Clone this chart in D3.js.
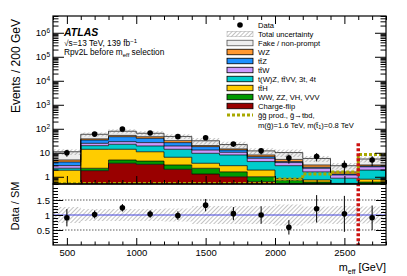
<!DOCTYPE html>
<html><head><meta charset="utf-8">
<script src="https://cdn.jsdelivr.net/npm/d3@7"></script>
<style>
body{margin:0;background:#fff;}
svg{display:block;font-family:"Liberation Sans",Arial,Helvetica,sans-serif;}
</style></head><body>
<svg id="c" width="407" height="276"></svg>
<script>
// ---------------- data ----------------
const binStart = [400,600,800,1000,1200,1400,1600,1800,2000,2200,2400,2600];
const binWidth = 200;
const chargeFlip = [0.02,1.8,3.65,3.3,2.05,1.3,1.0,0.62,0.3,0.2,0.05,0.2];
const vvv        = [0.05,0.46,1.35,1.2,1.05,0.96,0.6,0.38,0.42,0.4,0.2,0.4];
const ttH        = [1.8,11.7,9.0,6.5,3.4,1.39,1.3,0.9,0.13,0.14,0.28,0.19];
const tWZ        = [0.4,5.8,8.6,8.2,7.5,5.85,5.2,2.4,2.05,0.86,0.34,1.11];
const ttW        = [0.65,5.0,6.4,7.3,5.2,3.5,2.4,1.6,1.0,0.66,0.32,0.7];
const ttZ        = [1.2,9.2,17.6,13.5,7.3,5.0,2.5,1.0,0.4,0.24,0.1,0.2];
const wz         = [0.9,4.0,6.4,6.6,5.5,2.0,1.5,1.2,1.0,0.6,0.3,0.3];
const fake       = [6.0,21,26,18.4,16,11.6,7.5,3.9,4.9,2.7,1.3,2.4];
const dataCounts = [10,60,98,67,47,42,23,12,6,7,3,5];
const relUnc     = [0.27,0.2,0.2,0.2,0.22,0.3,0.3,0.3,0.35,0.28,0.3,0.28];
const signal     = [0.52,0.52,0.52,0.52,0.52,0.52,0.52,0.52,0.81,1.3,1.6,8.4];
const cutValue = 2600;
const cutTop = 25;
const xTicks = [500,1000,1500,2000,2500];
const yMainTicks = [1,10,100,1e3,1e4,1e5,1e6];
const yRatioTicks = [0.5,1,1.5];
const layers = [
  {vals: chargeFlip, color:"#990000", label:"Charge-flip"},
  {vals: vvv,        color:"#009900", label:"WW, ZZ, VH, VVV"},
  {vals: ttH,        color:"#ffcc00", label:"tt\u0304H"},
  {vals: tWZ,        color:"#00cccc", label:"t(W)Z, tt\u0304VV, 3t, 4t"},
  {vals: ttW,        color:"#cc99ff", label:"tt\u0304W"},
  {vals: ttZ,        color:"#1e90ff", label:"tt\u0304Z"},
  {vals: wz,         color:"#ff9933", label:"WZ"},
  {vals: fake,       color:"#eeeeee", label:"Fake / non-prompt"}
];

// ---------------- layout ----------------
const L=53, R=386, T=16, MB=184, RB=245;
const svg = d3.select("#c");
const x = d3.scaleLinear().domain([400,2800]).range([L,R]);
const y = d3.scaleLog().domain([0.5,5e6]).range([MB,T]);
const yr = d3.scaleLinear().domain([0,2]).range([RB,185]);
const lo = 0.3;

const defs = svg.append("defs");
const pat = defs.append("pattern").attr("id","hatch").attr("width",3).attr("height",3)
  .attr("patternUnits","userSpaceOnUse").attr("patternTransform","rotate(45)");
pat.append("line").attr("x1",0).attr("y1",0).attr("x2",0).attr("y2",3)
  .attr("stroke","#7a7a7a").attr("stroke-width",0.9);
defs.append("clipPath").attr("id","cm").append("rect").attr("x",L).attr("y",T).attr("width",R-L).attr("height",MB-T);
defs.append("clipPath").attr("id","cr").append("rect").attr("x",L).attr("y",MB).attr("width",R-L).attr("height",RB-MB);

// cumulative
const n = binStart.length;
let cum = new Array(n).fill(0);
const stacked = layers.map(l => {
  const bottom = cum.slice();
  cum = cum.map((c,i)=>c+l.vals[i]);
  return {layer:l, bottom, top: cum.slice()};
});
const total = cum.slice();

function stepPts(bot, top){
  const p=[];
  for(let i=0;i<n;i++){
    p.push({x:binStart[i], y0:bot[i], y1:top[i]});
    p.push({x:binStart[i]+binWidth, y0:bot[i], y1:top[i]});
  }
  return p;
}
const cl = v => Math.max(v, lo);
const area = d3.area().x(d=>x(d.x)).y0(d=>y(cl(d.y0))).y1(d=>y(cl(d.y1)));
const topLine = d3.line().x(d=>x(d.x)).y(d=>y(cl(d.y1)));

const gm = svg.append("g").attr("clip-path","url(#cm)");
stacked.forEach(s=>{
  gm.append("path").attr("d",area(stepPts(s.bottom,s.top))).attr("fill",s.layer.color);
});
stacked.forEach(s=>{
  const p = stepPts(s.bottom,s.top);
  const pts = [{x:p[0].x,y1:lo}].concat(p).concat([{x:p[p.length-1].x,y1:lo}]);
  gm.append("path").attr("d",topLine(pts)).attr("fill","none").attr("stroke","#000").attr("stroke-width",0.7);
});
// uncertainty band
gm.append("path").attr("d",area(stepPts(total.map((t,i)=>t*(1-relUnc[i])), total.map((t,i)=>t*(1+relUnc[i])))))
  .attr("fill","url(#hatch)");
// signal
const sigPts=[];
signal.forEach((s,i)=>{sigPts.push([binStart[i],s]);sigPts.push([binStart[i]+binWidth,s]);});
gm.append("path").attr("d",d3.line().x(d=>x(d[0])).y(d=>y(d[1]))(sigPts))
  .attr("fill","none").attr("stroke","#a8a800").attr("stroke-width",3).attr("stroke-dasharray","3,2");
// data
dataCounts.forEach((d,i)=>{
  const cx = x(binStart[i]+binWidth/2), e=Math.sqrt(d);
  gm.append("line").attr("x1",cx).attr("x2",cx).attr("y1",y(d+e)).attr("y2",y(Math.max(d-e,lo))).attr("stroke","#000").attr("stroke-width",1);
  gm.append("circle").attr("cx",cx).attr("cy",y(d)).attr("r",2.8).attr("fill","#000");
});

// ---------------- ratio ----------------
const gr = svg.append("g").attr("clip-path","url(#cr)");
const rbandArea = d3.area().x(d=>x(d.x)).y0(d=>yr(d.y0)).y1(d=>yr(d.y1));
gr.append("path").attr("d",rbandArea(stepPts(relUnc.map(u=>1-u), relUnc.map(u=>1+u)))).attr("fill","url(#hatch)");
[0.5,1.5].forEach(v=>gr.append("line").attr("x1",L).attr("x2",R).attr("y1",yr(v)).attr("y2",yr(v))
  .attr("stroke","#333").attr("stroke-width",0.8).attr("stroke-dasharray","1.5,1.5"));
gr.append("line").attr("x1",L).attr("x2",R).attr("y1",yr(1)).attr("y2",yr(1)).attr("stroke","#4444dd").attr("stroke-width",1);
dataCounts.forEach((d,i)=>{
  const cx = x(binStart[i]+binWidth/2), r=d/total[i], e=Math.sqrt(d)/total[i];
  gr.append("line").attr("x1",cx).attr("x2",cx).attr("y1",yr(r+e)).attr("y2",yr(r-e)).attr("stroke","#000").attr("stroke-width",1);
  gr.append("circle").attr("cx",cx).attr("cy",yr(r)).attr("r",2.8).attr("fill","#000");
});

// cut line
svg.append("line").attr("x1",x(cutValue)).attr("x2",x(cutValue)).attr("y1",y(cutTop)).attr("y2",RB)
  .attr("stroke","#cc1111").attr("stroke-width",3.5).attr("stroke-dasharray","3,2");

// ---------------- axes ----------------
const minorLog=[];
for(let e=-1;e<=6;e++) for(let k=2;k<=9;k++){const v=k*Math.pow(10,e); if(v>=0.5&&v<=5e6) minorLog.push(v);}
const minorX = d3.range(400,2801,100).filter(v=>v%500!==0);
const minorR = d3.range(0.1,2.0,0.1).map(v=>+v.toFixed(1)).filter(v=>v!==0.5&&v!==1&&v!==1.5);
const fs = "9.5px";
function clean(g){g.select(".domain").remove(); g.selectAll("line").attr("stroke","#000"); g.selectAll("text").attr("font-size",fs).attr("fill","#000").attr("font-family","Liberation Sans, Arial, sans-serif");}

// main y
const gyl = svg.append("g").attr("transform",`translate(${L},0)`)
  .call(d3.axisLeft(y).tickValues(yMainTicks).tickSize(-11).tickPadding(3).tickFormat(d=>d<100?String(d):"10"));
clean(gyl);
gyl.selectAll("text").each(function(d){ if(d>=100){ d3.select(this).append("tspan").attr("dy","-0.5em").attr("font-size","6.5px").text(Math.round(Math.log10(d))); }});
svg.append("g").attr("transform",`translate(${L},0)`).call(d3.axisLeft(y).tickValues(minorLog).tickSize(-5.5).tickFormat("")).call(clean);
svg.append("g").attr("transform",`translate(${R},0)`).call(d3.axisRight(y).tickValues(yMainTicks).tickSize(-11).tickFormat("")).call(clean);
svg.append("g").attr("transform",`translate(${R},0)`).call(d3.axisRight(y).tickValues(minorLog).tickSize(-5.5).tickFormat("")).call(clean);
// main x
svg.append("g").attr("transform",`translate(0,${MB})`).call(d3.axisBottom(x).tickValues(xTicks).tickSize(-8).tickFormat("")).call(clean);
svg.append("g").attr("transform",`translate(0,${MB})`).call(d3.axisBottom(x).tickValues(minorX).tickSize(-4).tickFormat("")).call(clean);
svg.append("g").attr("transform",`translate(0,${T})`).call(d3.axisTop(x).tickValues(xTicks).tickSize(-8).tickFormat("")).call(clean);
svg.append("g").attr("transform",`translate(0,${T})`).call(d3.axisTop(x).tickValues(minorX).tickSize(-4).tickFormat("")).call(clean);
// ratio y
svg.append("g").attr("transform",`translate(${L},0)`).call(d3.axisLeft(yr).tickValues(yRatioTicks).tickSize(-10).tickPadding(3).tickFormat(d=>String(d))).call(clean);
svg.append("g").attr("transform",`translate(${L},0)`).call(d3.axisLeft(yr).tickValues(minorR).tickSize(-5).tickFormat("")).call(clean);
svg.append("g").attr("transform",`translate(${R},0)`).call(d3.axisRight(yr).tickValues(yRatioTicks).tickSize(-10).tickFormat("")).call(clean);
svg.append("g").attr("transform",`translate(${R},0)`).call(d3.axisRight(yr).tickValues(minorR).tickSize(-5).tickFormat("")).call(clean);
// ratio x
svg.append("g").attr("transform",`translate(0,${RB})`).call(d3.axisBottom(x).tickValues(xTicks).tickSize(-7).tickPadding(4).tickFormat(d=>String(d))).call(clean);
svg.append("g").attr("transform",`translate(0,${RB})`).call(d3.axisBottom(x).tickValues(minorX).tickSize(-3.5).tickFormat("")).call(clean);

// frames
svg.append("rect").attr("x",L).attr("y",T).attr("width",R-L).attr("height",MB-T).attr("fill","none").attr("stroke","#000").attr("stroke-width",1.2);
svg.append("rect").attr("x",L).attr("y",MB).attr("width",R-L).attr("height",RB-MB).attr("fill","none").attr("stroke","#000").attr("stroke-width",1.2);

// axis titles
svg.append("text").attr("transform","translate(20,19) rotate(-90)").attr("text-anchor","end").attr("font-size","12px").text("Events / 200 GeV");
svg.append("text").attr("transform","translate(19,206) rotate(-90)").attr("text-anchor","middle").attr("font-size","11px").text("Data / SM");
const xt = svg.append("text").attr("x",R).attr("y",271).attr("text-anchor","end").attr("font-size","10.8px");
xt.append("tspan").text("m");
xt.append("tspan").attr("font-size","7px").attr("dy",2.5).text("eff");
xt.append("tspan").attr("dy",-2.5).text(" [GeV]");

// ATLAS labels
svg.append("text").attr("x",64).attr("y",36).attr("font-size","10.5px").attr("font-weight","bold").attr("font-style","italic").text("ATLAS");
const t2 = svg.append("text").attr("x",64).attr("y",46.3).attr("font-size","8.3px");
t2.append("tspan").text("\u221As=13 TeV, 139 fb");
t2.append("tspan").attr("dy",-3).attr("font-size","6px").text("\u22121");
const t3 = svg.append("text").attr("x",64).attr("y",55.3).attr("font-size","8.3px");
t3.append("tspan").text("Rpv2L before m");
t3.append("tspan").attr("dy",2).attr("font-size","6px").text("eff");
t3.append("tspan").attr("dy",-2).text(" selection");

// legend
const lx=227, lw=26, lh=5.5, tx=258, ly0=25, dy=9.0, lfs="7.6px";
const lg = svg.append("g");
function ltext(i, str){ return lg.append("text").attr("x",tx).attr("y",ly0+i*dy).attr("dy","0.35em").attr("font-size",lfs).text(str); }
lg.append("circle").attr("cx",lx+lw/2).attr("cy",ly0).attr("r",2.8).attr("fill","#000");
ltext(0,"Data");
lg.append("rect").attr("x",lx).attr("y",ly0+dy-lh/2).attr("width",lw).attr("height",lh).attr("fill","url(#hatch)").attr("stroke","#aaa").attr("stroke-width",0.5);
ltext(1,"Total uncertainty");
const legOrder = layers.slice().reverse();
legOrder.forEach((l,j)=>{
  const i=j+2;
  lg.append("rect").attr("x",lx).attr("y",ly0+i*dy-lh/2).attr("width",lw).attr("height",lh).attr("fill",l.color).attr("stroke",l.label.startsWith("Fake")?"#555":"#000").attr("stroke-width",0.8);
  ltext(i,l.label);
});
const si = 2+legOrder.length;
lg.append("line").attr("x1",lx).attr("x2",lx+lw).attr("y1",ly0+si*dy).attr("y2",ly0+si*dy).attr("stroke","#a8a800").attr("stroke-width",3).attr("stroke-dasharray","3,2");
ltext(si,"g\u0303g\u0303 prod., g\u0303\u2192tbd,");
const lt = lg.append("text").attr("x",tx).attr("y",ly0+(si+1)*dy+1).attr("dy","0.35em").attr("font-size",lfs);
lt.append("tspan").text("m(g\u0303)=1.6 TeV, m(t\u0303");
lt.append("tspan").attr("dy",1.5).attr("font-size","5.5px").text("1");
lt.append("tspan").attr("dy",-1.5).text(")=0.8 TeV");
</script>
</body></html>
